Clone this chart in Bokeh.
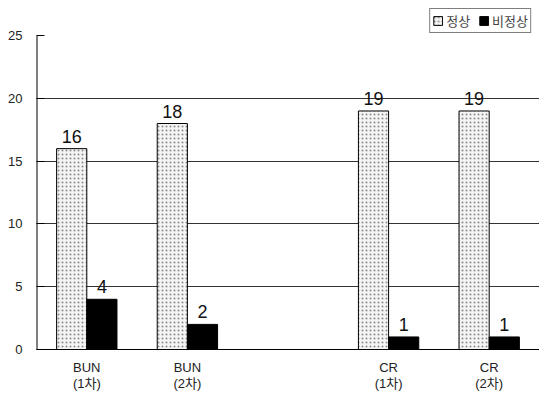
from bokeh.plotting import figure
from bokeh.models import FactorRange, Range1d, ColumnDataSource, Legend, LegendItem
from bokeh.transform import dodge
from bokeh.embed import file_html
from bokeh.resources import INLINE
from bokeh.core.properties import value

# data
categories = ["BUN\n(1차)", "BUN\n(2차)", "CR\n(1차)", "CR\n(2차)"]
factors = ["BUN\n(1차)", "BUN\n(2차)", " ", "CR\n(1차)", "CR\n(2차)"]
normal = [16, 18, 19, 19]
abnormal = [4, 2, 1, 1]
series_names = ["정상", "비정상"]
y_ticks = [0, 5, 10, 15, 20, 25]

src = ColumnDataSource(dict(cat=categories, normal=normal, abnormal=abnormal,
                            nlab=[str(v) for v in normal], alab=[str(v) for v in abnormal]))
axis_src = ColumnDataSource(dict(x=[factors[0]], y0=[y_ticks[0]], y1=[y_ticks[-1]]))

# headroom above 25 so that the legend can sit inside the frame
p = figure(x_range=FactorRange(factors=factors, range_padding=0), y_range=Range1d(0, 27.8),
           width=539, height=394, output_backend="svg", toolbar_location=None,
           min_border_left=36, min_border_right=0, min_border_top=0, min_border_bottom=38)
p.outline_line_color = None
p.background_fill_color = "white"

r1 = p.vbar(x=dodge("cat", -0.15, range=p.x_range), top="normal", width=0.3, source=src,
            fill_color="#f4f4f4", line_color="black", line_width=1,
            hatch_pattern="dot", hatch_color="#8a8a8a", hatch_scale=4, hatch_weight=1)
r2 = p.vbar(x=dodge("cat", 0.15, range=p.x_range), top="abnormal", width=0.3, source=src,
            fill_color="black", line_color="black", line_width=1)

p.text(x=dodge("cat", -0.15, range=p.x_range), y="normal", text="nlab", source=src,
       text_align="center", text_baseline="bottom", y_offset=-6,
       text_font=value("Liberation Sans"), text_font_size="18px", text_color="#111111")
p.text(x=dodge("cat", 0.15, range=p.x_range), y="abnormal", text="alab", source=src,
       text_align="center", text_baseline="bottom", y_offset=-6,
       text_font=value("Liberation Sans"), text_font_size="18px", text_color="#111111")

# y axis line only from 0 to 25
p.segment(x0=dodge("x", -0.5, range=p.x_range), x1=dodge("x", -0.5, range=p.x_range),
          y0="y0", y1="y1", source=axis_src, line_color="black", line_width=2)

p.xgrid.grid_line_color = None
p.ygrid.grid_line_color = "#333333"
p.ygrid.grid_line_width = 1
p.yaxis.ticker = y_ticks
p.ygrid.ticker = y_ticks[1:-1]

p.yaxis.axis_line_color = None
p.yaxis.major_tick_in = 8
p.yaxis.major_tick_out = 0
p.yaxis.minor_tick_line_color = None
p.yaxis.major_label_standoff = 14
p.yaxis.major_label_text_font = "Liberation Sans"
p.yaxis.major_label_text_font_size = "13px"
p.yaxis.major_label_text_color = "#222222"

p.xaxis.axis_line_color = "black"
p.xaxis.major_tick_line_color = None
p.xaxis.major_label_standoff = 4
p.xaxis.major_label_text_font = "Liberation Sans, Noto Sans CJK KR"
p.xaxis.major_label_text_font_size = "13px"
p.xaxis.major_label_text_line_height = 1.1
p.xaxis.major_label_text_color = "#222222"

legend = Legend(items=[LegendItem(label=series_names[0], renderers=[r1]),
                       LegendItem(label=series_names[1], renderers=[r2])],
                orientation="horizontal", location="top_right",
                label_text_font="Noto Sans CJK KR", label_text_font_size="13px",
                glyph_width=11, glyph_height=11, label_standoff=3, spacing=8,
                padding=2, margin=8, border_line_color="black", border_line_width=1,
                label_height=16)
p.add_layout(legend)

open("out.html", "w").write(file_html(p, INLINE))
